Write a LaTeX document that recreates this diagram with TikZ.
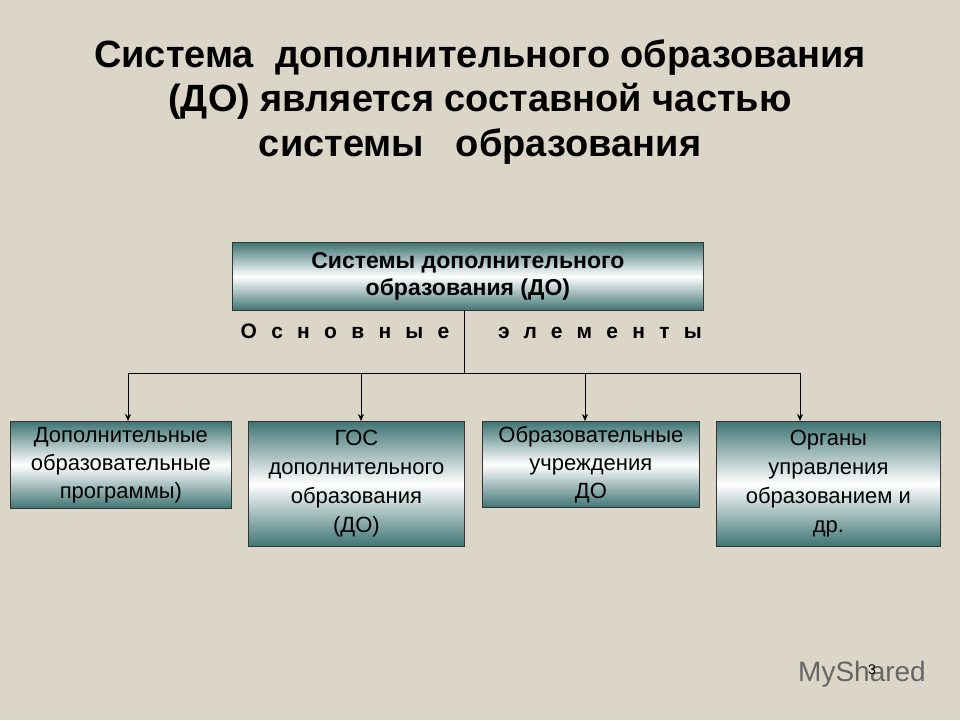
\documentclass[tikz,border=0pt]{standalone}
\usepackage{fontspec}
\setmainfont{Liberation Sans}
\usetikzlibrary{arrows.meta}
\begin{document}
\begin{tikzpicture}[x=1pt,y=-1pt,
  box/.style={draw=black!80,line width=0.8pt,top color=teal!55!black!75,bottom color=teal!55!black!75,middle color=white,shading angle=0,inner sep=0pt,anchor=north west,align=center},
  t/.style={font=\fontsize{22}{28}\selectfont},
  sp/.style={anchor=base,font=\bfseries\fontsize{21}{22}\selectfont\addfontfeature{LetterSpace=68}},
  arr/.style={-{Stealth[length=7pt,width=6pt]},line width=0.6pt}]
\fill[color={rgb,255:red,220;green,214;blue,200}] (0,0) rectangle (960,720);
\useasboundingbox (0,0) rectangle (960,720);
\node[font=\bfseries\fontsize{38}{44.5}\selectfont,align=center] (title) at (480,102) {Система\ \ дополнительного образования\\(ДО) является составной частью\\системы\ \ \ образования};
\node[box,minimum width=471,minimum height=68,font=\bfseries\fontsize{23}{27}\selectfont] (top) at (232,242) {Системы дополнительного\\образования (ДО)};
\node[box,t,minimum width=221,minimum height=87] (b1) at (10,421) {Дополнительные\\образовательные\\программы)};
\node[box,minimum width=216,minimum height=125,font=\fontsize{22}{29}\selectfont] (b2) at (248,421) {ГОС\\дополнительного\\образования\\(ДО)};
\node[box,t,minimum width=217,minimum height=86] (b3) at (482,421) {Образовательные\\учреждения\\ДО};
\node[box,minimum width=224,minimum height=125,font=\fontsize{22}{29}\selectfont] (b4) at (716,421) {Органы\\управления\\образованием и\\др.};
\node[sp] (l1) at (345,338) {Основные};
\node[sp] (l2) at (600,338) {элементы};
\coordinate (j) at (464,373);
\draw[line width=0.6pt] (top.south -| j) -- (j);
\draw[line width=0.6pt] (128,373) -- (800,373);
\draw[arr] (128,373) -- (b1.north -| 128,0);
\draw[arr] (361,373) -- (b2.north -| 361,0);
\draw[arr] (585,373) -- (b3.north -| 585,0);
\draw[arr] (800,373) -- (b4.north -| 800,0);
\node[text=black!60,font=\fontsize{28}{30}\selectfont] (ms) at (862,674) {MyShared};
\node[font=\fontsize{14}{16}\selectfont] (pg) at (872,670) {3};
\end{tikzpicture}
\end{document}
